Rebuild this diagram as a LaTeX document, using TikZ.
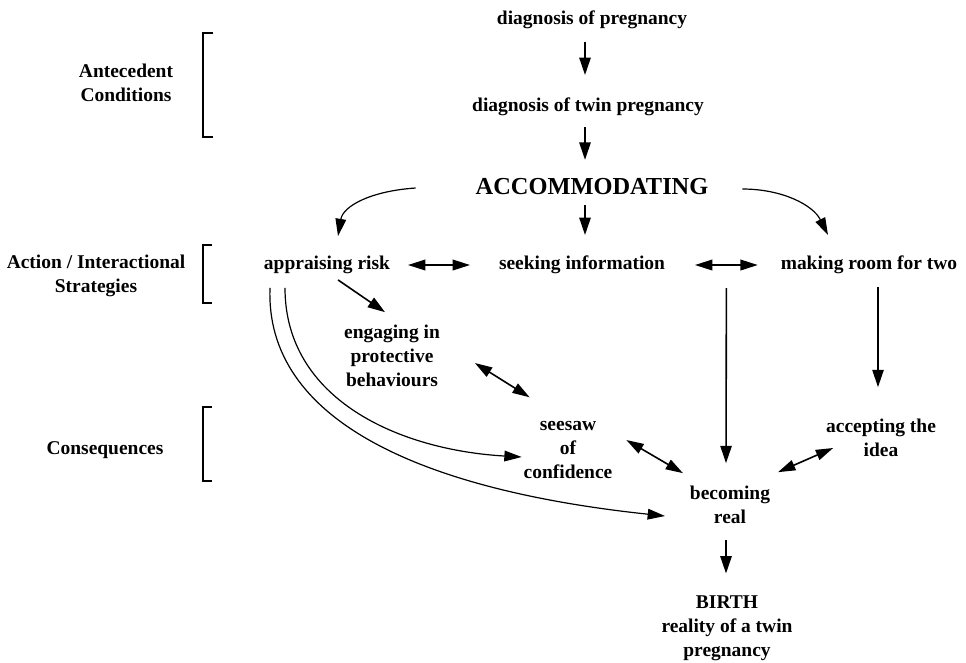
\documentclass[tikz,border=0pt]{standalone}
\usepackage{fontspec}
\setmainfont{Liberation Serif}
\usetikzlibrary{arrows.meta,calc}

\begin{document}
\begin{tikzpicture}[x=0.75pt, y=-0.75pt,
  every node/.style={font=\bfseries\fontsize{14.6}{18}\selectfont, inner sep=0pt, outer sep=0pt, align=center},
  arr/.style={-{Triangle[length=13pt,width=8.5pt]}, line width=1.2pt},
  darr/.style={{Triangle[length=13pt,width=8pt]}-{Triangle[length=13pt,width=8pt]}, line width=1.2pt},
  curvearr/.style={-{Triangle[length=13pt,width=8pt]}, line width=0.9pt}]
  \useasboundingbox (0,0) rectangle (966,662);

  % phase labels and brackets
  \node (ant) at (126,83) {Antecedent\\Conditions};
  \node (ais) at (96,276) {Action / Interactional\\Strategies};
  \node (con) at (105,450) {Consequences};
  \draw[line width=1pt] (213,33) -- (203,33) -- (203,137) -- (213,137);
  \draw[line width=1pt] (212,245) -- (203,245) -- (203,303) -- (212,303);
  \draw[line width=1pt] (212,407) -- (203,407) -- (203,481) -- (212,481);

  % concepts
  \node (dp) at (592,20) {diagnosis of pregnancy};
  \node (dtp) at (588,107) {diagnosis of twin pregnancy};
  \node[font=\bfseries\fontsize{18.3}{22}\selectfont] (acc) at (592,187) {ACCOMMODATING};
  \node (ar) at (327,265) {appraising risk};
  \node (si) at (582,265) {seeking information};
  \node (mr) at (869,265) {making room for two};
  \node (ep) at (392,356) {engaging in\\protective\\behaviours};
  \node (ss) at (568,450) {seesaw\\of\\confidence};
  \node (ac) at (881,438) {accepting the\\idea};
  \node (br) at (730,505) {becoming\\real};
  \node (bi) at (727,628) {BIRTH\\reality of a twin\\pregnancy};

  % connectors
  \draw[arr] ($(dp.south)+(-7,13)$) -- ($(dtp.north)+(-3,-23)$);
  \draw[arr] ($(dtp.south)+(-3,11)$) -- ($(acc.north)+(-7,-19)$);
  \draw[arr] ($(acc.south)+(-7,10)$) -- ($(si.north)+(3,-21)$);
  \draw[curvearr] ($(acc.west)+(-60,1)$) .. controls +(-45,3) and +(5,-30) .. ($(ar.north)+(11,-20)$);
  \draw[curvearr] ($(acc.east)+(34,2)$) .. controls +(40,0) and +(-15,-30) .. ($(mr.north)+(-41,-21)$);
  \draw[darr] ($(ar.east)+(18,0)$) -- ($(si.west)+(-29,0)$);
  \draw[darr] ($(si.east)+(30,0)$) -- coordinate[midway] (simr) ($(mr.west)+(-23,0)$);
  \draw[arr] ($(simr)+(0,23)$) -- ($(br.north)+(-4,-23)$);
  \draw[arr] ($(mr.south)+(9,13)$) -- ($(ac.north)+(-3,-32)$);
  \draw[arr] ($(ar.south)+(11,6)$) -- ($(ep.north)+(-7,-13)$);
  \draw[darr] ($(ep.east)+(35,7)$) -- ($(ss.north west)+(6,-24)$);
  \draw[darr] ($(ss.east)+(14,-10)$) -- ($(br.north west)+(-7,-13)$);
  \draw[darr] ($(br.north east)+(8,-14)$) -- ($(ac.west)+(7,10)$);
  \draw[curvearr] ($(ar.south)+(-42,14)$) .. controls +(0,112) and +(-122,-7) .. ($(ss.west)+(-2,7)$);
  \draw[curvearr] ($(ar.south)+(-57,14)$) .. controls +(-5,132) and +(-245,-26) .. ($(br.west)+(-25,11)$);
  \draw[arr] ($(br.south)+(-4,16)$) -- ($(bi.north)+(-1,-22)$);
\end{tikzpicture}
\end{document}
